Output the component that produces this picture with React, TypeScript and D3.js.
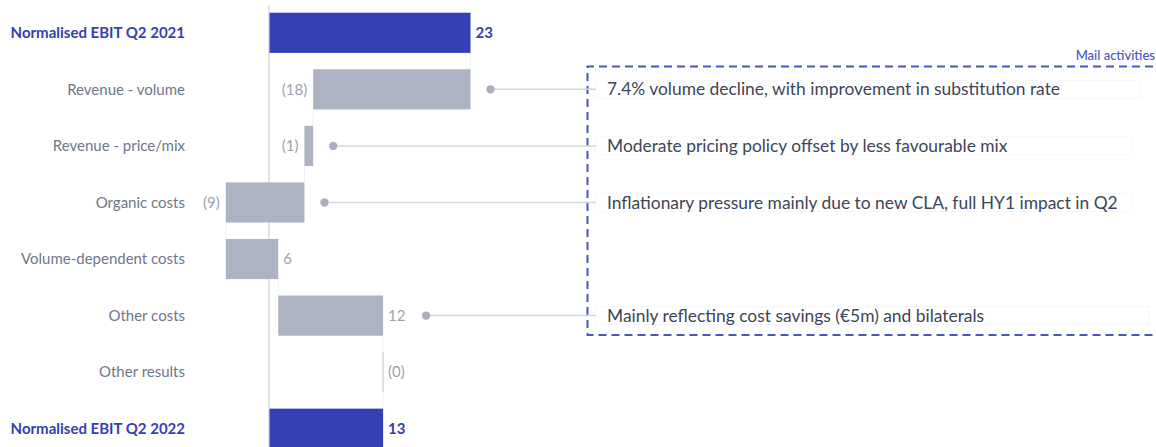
import * as d3 from 'd3';
import React from 'react';

// waterfall rows, top to bottom
const categories = [
  'Normalised EBIT Q2 2021',
  'Revenue - volume',
  'Revenue - price/mix',
  'Organic costs',
  'Volume-dependent costs',
  'Other costs',
  'Other results',
  'Normalised EBIT Q2 2022',
];
const values = [23, -18, -1, -9, 6, 12, 0, 13];
const valueLabels = ['23', '(18)', '(1)', '(9)', '6', '12', '(0)', '13'];
const isTotal = [true, false, false, false, false, false, false, true];

// comments in the "Mail activities" box
const commentRows = [1, 2, 3, 5];
const commentTexts = [
  '7.4% volume decline, with improvement in substitution rate',
  'Moderate pricing policy offset by less favourable mix',
  'Inflationary pressure mainly due to new CLA, full HY1 impact in Q2',
  'Mainly reflecting cost savings (€5m) and bilaterals',
];
const boxTitle = 'Mail activities';

const BLUE = '#3440b4';
const GREY_BAR = '#adb3c2';
const FONT = 'Lato, "Open Sans", sans-serif';

export default function App() {
  const width = 1156;
  const height = 447;

  const x = d3.scaleLinear().domain([0, 23]).range([269.5, 470.5]);
  const y = d3
    .scaleBand<string>()
    .domain(categories)
    .range([4.5, 457])
    .paddingInner(0.29)
    .paddingOuter(0.145);

  // start / end of every bar
  let running = 0;
  const bars = categories.map((c, i) => {
    let start, end;
    if (isTotal[i]) {
      start = 0;
      end = values[i];
      running = values[i];
    } else {
      start = running;
      end = running + values[i];
      running = end;
    }
    return { c, i, start, end, lo: Math.min(start, end), hi: Math.max(start, end) };
  });

  const bw = y.bandwidth();

  return (
    <svg width={width} height={height} style={{ position: 'absolute', left: 0, top: 0, background: '#fff' }}>
      {/* zero line */}
      <line x1={x(0) - 0.5} x2={x(0) - 0.5} y1={5} y2={height} stroke="#e1e3e8" strokeWidth={2} />

      {/* faint step connectors */}
      {bars.slice(0, -1).map((b, k) => {
        const yy0 = (y(b.c) as number) + bw;
        const yy1 = y(categories[k + 1]) as number;
        return (
          <line key={'con' + k} x1={x(b.end)} x2={x(b.end)} y1={yy0} y2={yy1} stroke="#f0f1f4" strokeWidth={1} />
        );
      })}

      {/* bars */}
      {bars.map((b) => {
        const y0 = y(b.c) as number;
        if (b.hi === b.lo) {
          return (
            <line key={'bar' + b.i} x1={x(b.hi)} x2={x(b.hi)} y1={y0} y2={y0 + bw} stroke="#d6d9e0" strokeWidth={1.5} />
          );
        }
        return (
          <rect
            key={'bar' + b.i}
            x={x(b.lo)}
            y={y0}
            width={x(b.hi) - x(b.lo)}
            height={bw}
            fill={isTotal[b.i] ? BLUE : GREY_BAR}
          />
        );
      })}

      {/* category labels */}
      {bars.map((b) => (
        <text
          key={'cat' + b.i}
          x={185}
          y={(y(b.c) as number) + bw / 2}
          dy="0.35em"
          textAnchor="end"
          fontFamily={FONT}
          fontSize={15}
          fontWeight={isTotal[b.i] ? 700 : 400}
          fill={isTotal[b.i] ? BLUE : '#6f778a'}
        >
          {b.c}
        </text>
      ))}

      {/* value labels */}
      {bars.map((b) => {
        const left = !isTotal[b.i] && values[b.i] < 0;
        const lx = left ? x(b.lo) - 6 : x(b.hi) + 5;
        return (
          <text
            key={'val' + b.i}
            x={lx}
            y={(y(b.c) as number) + bw / 2}
            dy="0.35em"
            textAnchor={left ? 'end' : 'start'}
            fontFamily={FONT}
            fontSize={15}
            fontWeight={isTotal[b.i] ? 700 : 400}
            fill={isTotal[b.i] ? BLUE : '#9ca2b1'}
          >
            {valueLabels[b.i]}
          </text>
        );
      })}

      {/* comment box */}
      <path
        d={`M ${width + 10} 66.5 H 587.5 V 335 H ${width + 10}`}
        fill="none"
        stroke="#4a54c2"
        strokeWidth={2}
        strokeDasharray="8 5"
      />
      <text x={1155} y={60} textAnchor="end" fontFamily={FONT} fontSize={13} fontWeight={500} fill="#4a54c2">
        {boxTitle}
      </text>

      {commentRows.map((r, k) => {
        const b = bars[r];
        const cy = (y(b.c) as number) + bw / 2;
        const labelRight = !(values[r] < 0);
        const dotX = x(b.hi) + (labelRight ? 43 : 20);
        return (
          <g key={'cm' + k}>
            <rect x={596} y={cy - 9} width={[544, 536, 536, 553][k]} height={18} fill="none" stroke="#f6f7f9" strokeWidth={1} />
            <line x1={dotX} x2={596} y1={cy} y2={cy} stroke="#d3d6dd" strokeWidth={1.5} />
            <circle cx={dotX} cy={cy} r={4.2} fill="#a9afbd" />
            <text x={607} y={cy} dy="0.35em" fontFamily={FONT} fontSize={17.4} fill="#3d4558">
              {commentTexts[k]}
            </text>
          </g>
        );
      })}
    </svg>
  );
}
